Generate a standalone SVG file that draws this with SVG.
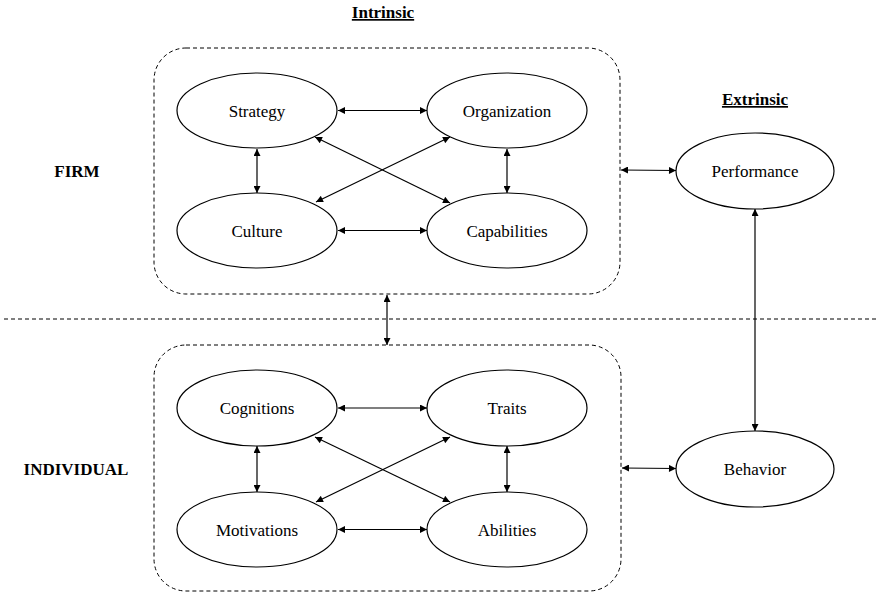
<svg xmlns="http://www.w3.org/2000/svg" width="876" height="593" viewBox="0 0 876 593">
<style>
.node ellipse{fill:#fff;stroke:#000;stroke-width:1.2}
.lbl{font-family:"Liberation Serif","Times New Roman",serif;font-size:17px;fill:#000;text-anchor:middle}
.hd{font-family:"Liberation Serif","Times New Roman",serif;font-size:17px;font-weight:bold;fill:#000;text-anchor:middle}
.box{fill:none;stroke:#000;stroke-width:1;stroke-dasharray:4,3}
.conn line{stroke:#000;stroke-width:1.2;marker-start:url(#a);marker-end:url(#a)}
</style>
<defs>
<marker id="a" viewBox="0 0 10 10" refX="10" refY="5" markerWidth="8" markerHeight="7" markerUnits="userSpaceOnUse" orient="auto-start-reverse">
<path d="M0,0 L10,5 L0,10 z" fill="#000"/>
</marker>
</defs>
<g id="headers">
<text class="hd" x="383" y="18" text-decoration="underline">Intrinsic</text>
<text class="hd" x="755" y="105" text-decoration="underline">Extrinsic</text>
<text class="hd" x="77" y="177">FIRM</text>
<text class="hd" x="76" y="475">INDIVIDUAL</text>
</g>
<g id="firm-box"><rect class="box" x="154" y="48" width="466" height="246" rx="32"/></g>
<g id="individual-box"><rect class="box" x="154" y="345" width="467" height="246" rx="32"/></g>
<g id="divider"><line class="box" x1="4" y1="319" x2="876" y2="319"/></g>
<g id="strategy" class="node"><ellipse cx="257" cy="110.5" rx="80" ry="37.5"/><text class="lbl" x="257" y="116.5">Strategy</text></g>
<g id="organization" class="node"><ellipse cx="507" cy="110.5" rx="80" ry="37.5"/><text class="lbl" x="507" y="116.5">Organization</text></g>
<g id="culture" class="node"><ellipse cx="257" cy="230.5" rx="80" ry="37.5"/><text class="lbl" x="257" y="236.5">Culture</text></g>
<g id="capabilities" class="node"><ellipse cx="507" cy="230.5" rx="80" ry="37.5"/><text class="lbl" x="507" y="236.5">Capabilities</text></g>
<g id="performance" class="node"><ellipse cx="755" cy="171" rx="79" ry="38"/><text class="lbl" x="755" y="177">Performance</text></g>
<g id="cognitions" class="node"><ellipse cx="257" cy="408" rx="80" ry="38"/><text class="lbl" x="257" y="414">Cognitions</text></g>
<g id="traits" class="node"><ellipse cx="507" cy="408" rx="80" ry="38"/><text class="lbl" x="507" y="414">Traits</text></g>
<g id="motivations" class="node"><ellipse cx="257" cy="529.5" rx="80" ry="37.5"/><text class="lbl" x="257" y="535.5">Motivations</text></g>
<g id="abilities" class="node"><ellipse cx="507" cy="529.5" rx="80" ry="37.5"/><text class="lbl" x="507" y="535.5">Abilities</text></g>
<g id="behavior" class="node"><ellipse cx="755" cy="469" rx="79" ry="38"/><text class="lbl" x="755" y="475">Behavior</text></g>
<g id="connectors" class="conn">
<line x1="338" y1="110.5" x2="427" y2="110.5"/>
<line x1="338" y1="230.5" x2="427" y2="230.5"/>
<line x1="257" y1="149" x2="257" y2="193"/>
<line x1="507" y1="149" x2="507" y2="193"/>
<line x1="315" y1="137" x2="450" y2="203"/>
<line x1="450" y1="137" x2="316" y2="202"/>
<line x1="338" y1="408" x2="427" y2="408"/>
<line x1="338" y1="529.5" x2="427" y2="529.5"/>
<line x1="257" y1="446" x2="257" y2="492"/>
<line x1="507" y1="446" x2="507" y2="492"/>
<line x1="315" y1="437" x2="450" y2="502"/>
<line x1="450" y1="437" x2="316" y2="502"/>
<line x1="621" y1="170" x2="676" y2="170.5"/>
<line x1="622" y1="468" x2="676" y2="468.5"/>
<line x1="755" y1="209" x2="755" y2="431"/>
<line x1="387" y1="295" x2="387" y2="345"/>
</g>
</svg>
